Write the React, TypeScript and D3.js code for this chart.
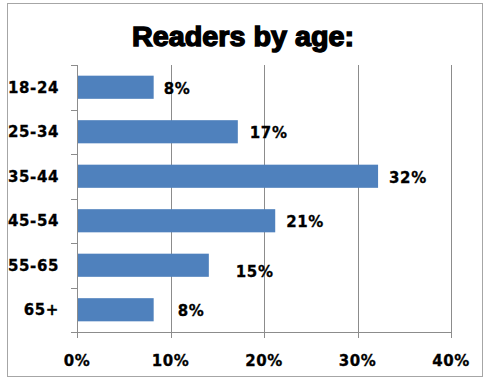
import React from "react";
import * as d3 from "d3";

const categories = ["18-24", "25-34", "35-44", "45-54", "55-65", "65+"];
const values = [8.2, 17.2, 32.2, 21.2, 14.1, 8.2];
const valueLabels = ["8%", "17%", "32%", "21%", "15%", "8%"];
const labelOffsetX = [10, 12, 11, 11, 27, 24];
const labelOffsetY = [2, 2, 2, 2, 7, 2];
const xTicks = [0, 10, 20, 30, 40];
const title = "Readers by age:";

const W = 494;
const H = 385;
const plot = { left: 77, right: 451, top: 65, bottom: 332 };

export default function App() {
  const x = d3.scaleLinear().domain([0, 40]).range([plot.left, plot.right]);
  const y = d3
    .scaleBand<string>()
    .domain(categories)
    .range([plot.top, plot.bottom])
    .paddingInner(0.48)
    .paddingOuter(0.24);
  const step = (plot.bottom - plot.top) / categories.length;
  const font = "'DejaVu Sans', Verdana, sans-serif";
  const gridColor = "#8c8c8c";
  const textProps = {
    fontFamily: font,
    fontWeight: "bold",
    fontSize: 15,
    letterSpacing: 0.6,
    fill: "#000",
    stroke: "#000",
    strokeWidth: 0.3,
  } as const;

  return (
    <div style={{ position: "absolute", left: 0, top: 0 }}>
      <svg width={W} height={H} style={{ display: "block", background: "#fff" }}>
        <rect x={7.5} y={3.5} width={475} height={373} fill="#fff" stroke="#a6a6a6" strokeWidth={1} />
        <text
          x={243}
          y={46}
          textAnchor="middle"
          fontFamily="'Liberation Sans', Arial, sans-serif"
          fontWeight="bold"
          fontSize={28}
          stroke="#000"
          strokeWidth={1.4}
          textLength={222}
          lengthAdjust="spacingAndGlyphs"
        >
          {title}
        </text>
        {xTicks.slice(1).map((t) => (
          <line
            key={"g" + t}
            x1={Math.round(x(t)) + 0.5}
            x2={Math.round(x(t)) + 0.5}
            y1={plot.top}
            y2={plot.bottom}
            stroke={gridColor}
            strokeWidth={1}
          />
        ))}
        {xTicks.map((t) => (
          <line
            key={"xt" + t}
            x1={Math.round(x(t)) + 0.5}
            x2={Math.round(x(t)) + 0.5}
            y1={plot.bottom}
            y2={plot.bottom + 6}
            stroke={gridColor}
          />
        ))}
        {d3.range(categories.length + 1).map((i) => (
          <line
            key={"yt" + i}
            x1={plot.left - 6}
            x2={plot.left}
            y1={Math.round(plot.top + i * step) + 0.5}
            y2={Math.round(plot.top + i * step) + 0.5}
            stroke={gridColor}
          />
        ))}
        {categories.map((c, i) => (
          <rect
            key={"b" + c}
            x={x(0)}
            y={y(c)}
            width={x(values[i]) - x(0)}
            height={y.bandwidth()}
            fill="#4f81bd"
          />
        ))}
        <line x1={plot.left + 0.5} x2={plot.left + 0.5} y1={plot.top} y2={plot.bottom} stroke={gridColor} />
        <line x1={plot.left - 6} x2={plot.right + 1} y1={plot.bottom + 0.5} y2={plot.bottom + 0.5} stroke={gridColor} />
        {categories.map((c, i) => (
          <text
            key={"l" + c}
            x={x(values[i]) + labelOffsetX[i]}
            y={(y(c) as number) + y.bandwidth() / 2 + labelOffsetY[i]}
            dominantBaseline="middle"
            {...textProps}
          >
            {valueLabels[i]}
          </text>
        ))}
        {categories.map((c) => (
          <text
            key={"c" + c}
            x={59}
            y={(y(c) as number) + y.bandwidth() / 2 + 1}
            textAnchor="end"
            dominantBaseline="middle"
            {...textProps}
          >
            {c}
          </text>
        ))}
        {xTicks.map((t) => (
          <text
            key={"xl" + t}
            x={x(t)}
            y={361}
            textAnchor="middle"
            dominantBaseline="middle"
            {...textProps}
          >
            {t + "%"}
          </text>
        ))}
      </svg>
    </div>
  );
}
